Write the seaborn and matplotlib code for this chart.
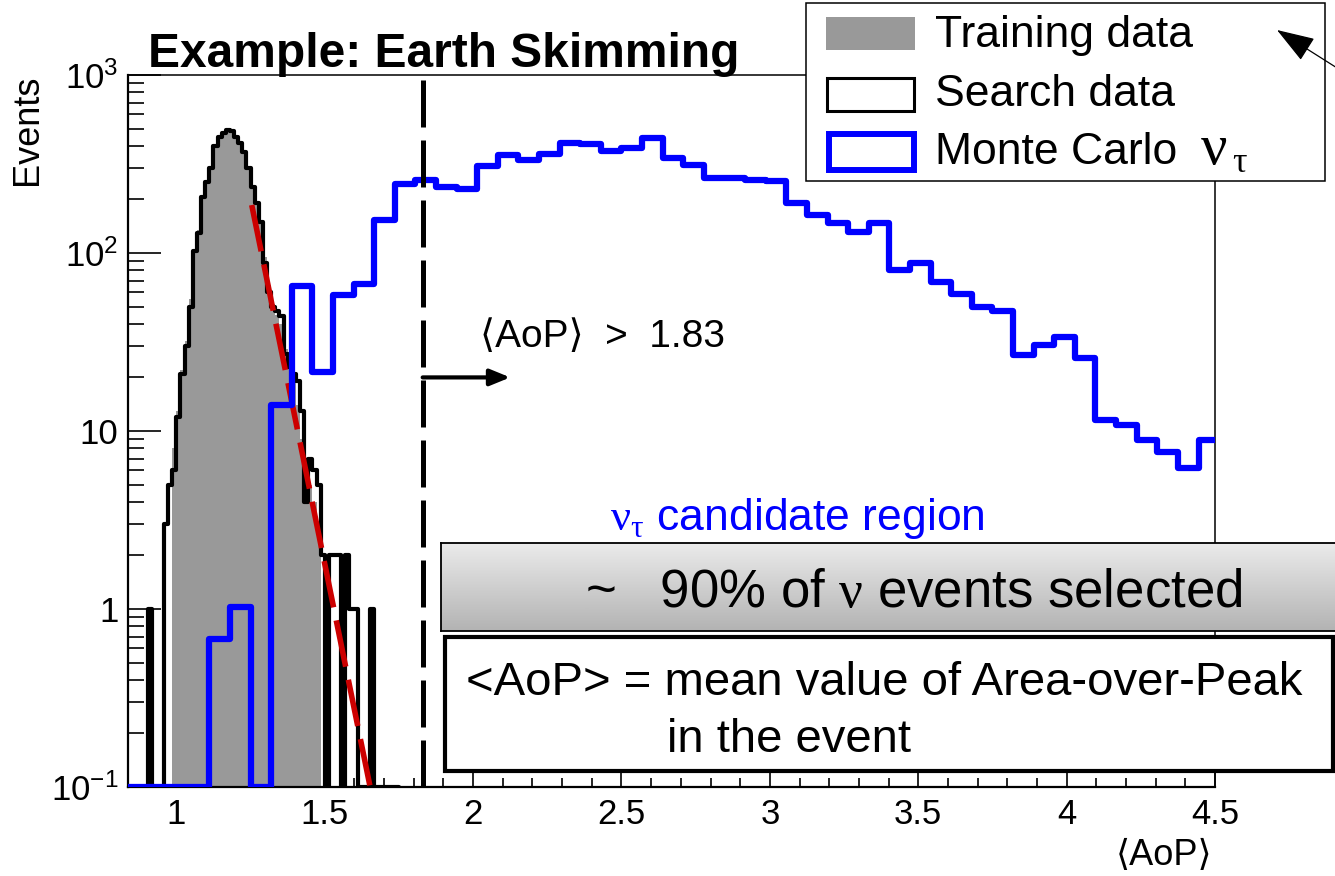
import numpy as np
import pandas as pd
import matplotlib
matplotlib.use("Agg")
import matplotlib.pyplot as plt
import seaborn as sns
from matplotlib.patches import Rectangle, FancyArrowPatch
from matplotlib.ticker import FixedLocator, FixedFormatter, MultipleLocator, LogLocator, NullFormatter

# ---------------- data ----------------
# Monte Carlo nu_tau histogram: bin width 5/72, first bin index 12
mc_first_bin = 12
mc_bin_width = 5 / 72
mc_counts = [0, 0, 0, 0,
             0.68, 1.03, 0, 14,
             65, 21.5, 58, 67, 153,
             243, 257, 236, 228, 308,
             356, 333, 360, 413, 409,
             374, 387, 441, 340, 312,
             263, 263, 257, 254, 190,
             163, 147, 132, 147, 80,
             87.5, 69, 59, 50, 47,
             26.7, 30.4, 33.6, 25.6, 11.6,
             10.8, 8.9, 7.65, 6.2, 8.9]

# Search / training data histograms: bin width 1/72, first bin index 60
data_first_bin = 60
data_bin_width = 1 / 72
search_counts = [0, 0, 0, 0, 0, 1, 0, 0, 0, 3,
                 5, 6, 12, 21, 30, 50, 102, 129, 207, 252,
                 300, 400, 450, 470, 491, 485, 450, 413, 371, 299,
                 236, 190, 150, 88, 60, 50, 47, 44, 27, 23,
                 21, 19, 13, 4, 7, 6, 5, 2, 0, 2,
                 2, 2, 0, 2, 1, 1, 0, 0, 0, 1,
                 0, 0, 0, 0, 0, 0]
train_counts = [0, 0, 0, 0, 0, 0, 0, 0, 0, 0,
                0, 8, 13, 22, 32, 55, 105, 135, 200, 255,
                310, 400, 445, 468, 478, 480, 455, 410, 360, 295,
                235, 185, 145, 95, 66, 52, 45, 40, 29, 23,
                19, 14, 9, 7, 5, 4, 3, 0, 0, 0,
                0, 0, 0, 0, 0, 0, 0, 0, 0, 0,
                0, 0, 0, 0, 0, 0]

# exponential tail fit (straight on log axis)
fit_x = [1.254, 1.653]
fit_y = [186, 0.1]

cut_value = 1.83
arrow_end = 2.125
arrow_level = 20

x_ticks = [1, 1.5, 2, 2.5, 3, 3.5, 4, 4.5]
x_tick_labels = ["1", "1.5", "2", "2.5", "3", "3.5", "4", "4.5"]
y_ticks = [0.1, 1, 10, 100, 1000]
y_tick_labels = [r"$10^{-1}$", "1", "10", r"$10^{2}$", r"$10^{3}$"]
x_range = (0.837, 4.5)
y_range = (0.1, 1000)

legend_labels = ["Training data", "Search data", "Monte Carlo"]
title_text = "Example: Earth Skimming"
cut_text = "\u27e8AoP\u27e9  >  1.83"
region_text = r"$\mathsf{\nu}_{\mathsf{\tau}}$ candidate region"
frac_text = r"~   90% of $\mathsf{\nu}$ events selected"
def_line1 = "<AoP> = mean value of Area-over-Peak"
def_line2 = "in the event"

# ---------------- style ----------------
sns.set_style("white")
plt.rcParams["font.family"] = ["Liberation Sans", "DejaVu Sans"]
plt.rcParams["mathtext.fontset"] = "custom"
plt.rcParams["mathtext.rm"] = "Liberation Sans"
plt.rcParams["mathtext.sf"] = "Liberation Serif"
plt.rcParams["mathtext.it"] = "Liberation Sans:italic"
plt.rcParams["mathtext.bf"] = "Liberation Sans:bold"
plt.rcParams["mathtext.default"] = "regular"
plt.rcParams["text.color"] = "black"
plt.rcParams["xtick.color"] = "black"
plt.rcParams["ytick.color"] = "black"

W, H = 1335, 876
def fx(x):
    return x / W
def fy(y):
    return 1 - y / H

fig = plt.figure(figsize=(W / 100, H / 100), dpi=100)
fig.patch.set_facecolor("white")
ax = fig.add_axes([fx(128), fy(787), (1215 - 128) / W, (787 - 75) / H])
ax.set_facecolor("white")

ymin = y_range[0]

d_edges = (data_first_bin + np.arange(len(search_counts) + 1)) * data_bin_width
d_centers = 0.5 * (d_edges[:-1] + d_edges[1:])
df_data = pd.DataFrame({
    "aop": d_centers,
    "train": np.array(train_counts, float),
    "search": np.clip(np.array(search_counts, float), ymin, None),
})
mc_edges = (mc_first_bin + np.arange(len(mc_counts) + 1)) * mc_bin_width
mc_centers = 0.5 * (mc_edges[:-1] + mc_edges[1:])
df_mc = pd.DataFrame({
    "aop": mc_centers,
    "mc": np.clip(np.array(mc_counts, float), ymin, None),
})

# training data (filled gray)
sns.histplot(data=df_data, x="aop", weights="train", bins=list(d_edges),
             element="step", fill=True, color="#999999", alpha=1, linewidth=0,
             ax=ax, zorder=1)
# search data (black outline)
sns.histplot(data=df_data, x="aop", weights="search", bins=list(d_edges),
             element="step", fill=False, color="black", linewidth=3.0,
             ax=ax, zorder=3)
# fit
ax.plot(fit_x, fit_y, color="#cc0000", lw=4.0, dashes=(8.5, 2.4), zorder=4,
        dash_capstyle="butt")
# Monte Carlo
sns.histplot(data=df_mc, x="aop", weights="mc", bins=list(mc_edges),
             element="step", fill=False, color="#0000ff", linewidth=4.5,
             ax=ax, zorder=5)

ax.set_yscale("log")
ax.set_xlim(*x_range)
ax.set_ylim(*y_range)

# cut line and arrow
ax.axvline(cut_value, color="black", lw=3.6, dashes=(9.4, 2.6), zorder=6,
           dash_capstyle="butt")
ax.annotate("", xy=(arrow_end, arrow_level), xytext=(cut_value, arrow_level),
            arrowprops=dict(arrowstyle="-|>,head_length=1.1,head_width=0.45",
                            mutation_scale=11, lw=3.0, color="black",
                            shrinkA=0, shrinkB=0), zorder=7)

# axes / ticks
ax.set_xlabel("")
ax.set_ylabel("")
ax.xaxis.set_major_locator(FixedLocator(x_ticks))
ax.xaxis.set_major_formatter(FixedFormatter(x_tick_labels))
ax.xaxis.set_minor_locator(MultipleLocator(0.1))
ax.yaxis.set_major_locator(FixedLocator(y_ticks))
ax.yaxis.set_major_formatter(FixedFormatter(y_tick_labels))
ax.yaxis.set_minor_locator(LogLocator(base=10, subs=np.arange(2, 10)))
ax.yaxis.set_minor_formatter(NullFormatter())
ax.tick_params(axis="x", which="major", direction="in", length=12.2, width=1.2,
               labelsize=25, pad=8, top=False, bottom=True)
ax.tick_params(axis="x", which="minor", direction="in", length=6.5, width=1.2,
               top=False, bottom=True)
ax.tick_params(axis="y", which="major", direction="in", length=23.8, width=1.2,
               labelsize=25, pad=7, right=False, left=True)
ax.tick_params(axis="y", which="minor", direction="in", length=11.5, width=1.2,
               right=False, left=True)
for side in ["left", "bottom"]:
    ax.spines[side].set_linewidth(1.6)
    ax.spines[side].set_color("black")
for side in ["top", "right"]:
    ax.spines[side].set_linewidth(1.1)
    ax.spines[side].set_color("black")
ax.grid(False)

# titles and labels
fig.text(fx(148), fy(67), title_text, fontsize=34.5, fontweight="bold", va="baseline")
fig.text(fx(28), fy(75), "Events", rotation=90, ha="center", va="top", fontsize=26)
fig.text(fx(1212), fy(865), "\u27e8AoP\u27e9", ha="right", va="baseline", fontsize=26)
fig.text(fx(480), fy(347), cut_text, fontsize=28, va="baseline")
fig.text(fx(610), fy(530), region_text, color="#0000ff", fontsize=32, va="baseline")

# gradient box
gax = fig.add_axes([fx(441), fy(631), (1345 - 441) / W, (631 - 543) / H])
grad = np.linspace(0.92, 0.70, 256).reshape(-1, 1)
gax.imshow(grad, cmap="gray", vmin=0, vmax=1, aspect="auto", extent=[0, 1, 0, 1])
gax.set_xticks([])
gax.set_yticks([])
for s in gax.spines.values():
    s.set_linewidth(1.3)
    s.set_color("black")
fig.text(fx(585), fy(607), frac_text, fontsize=38, va="baseline", zorder=20)

# definition box
fig.add_artist(Rectangle((fx(445), fy(771)), (1333 - 445) / W, (771 - 637) / H,
                         transform=fig.transFigure, facecolor="white",
                         edgecolor="black", lw=3, zorder=15))
fig.text(fx(466), fy(695), def_line1, fontsize=34, va="baseline", zorder=20)
fig.text(fx(667), fy(752), def_line2, fontsize=34, va="baseline", zorder=20)

# legend
fig.add_artist(Rectangle((fx(806), fy(181)), (1325 - 806) / W, (181 - 3) / H,
                         transform=fig.transFigure, facecolor="white",
                         edgecolor="black", lw=1.1, zorder=15))
fig.add_artist(Rectangle((fx(826), fy(50)), 89 / W, 33 / H, transform=fig.transFigure,
                         facecolor="#999999", edgecolor="none", zorder=16))
fig.add_artist(Rectangle((fx(827), fy(111)), 87 / W, 33 / H, transform=fig.transFigure,
                         facecolor="white", edgecolor="black", lw=2.2, zorder=16))
fig.add_artist(Rectangle((fx(829), fy(170)), 85 / W, 36 / H, transform=fig.transFigure,
                         facecolor="white", edgecolor="#0000ff", lw=4.3, zorder=16))
for lab, base in zip(legend_labels, [47, 106, 164]):
    fig.text(fx(935), fy(base), lab, fontsize=32, va="baseline", zorder=20)
# larger Greek symbol for the Monte Carlo entry
fig.text(fx(1200), fy(164), r"$\mathsf{\nu}$", fontsize=42, va="baseline", zorder=20)
fig.text(fx(1232), fy(172), r"$\mathsf{\tau}$", fontsize=26, va="baseline", zorder=20)

# pointer arrow at top right
fig.add_artist(FancyArrowPatch((fx(1345), fy(73)), (fx(1277), fy(30)),
                               transform=fig.transFigure,
                               arrowstyle="-|>,head_length=1.6,head_width=0.55",
                               mutation_scale=15, lw=0.9, color="black",
                               shrinkA=0, shrinkB=0, zorder=21))

fig.savefig("out.png", dpi=100)
